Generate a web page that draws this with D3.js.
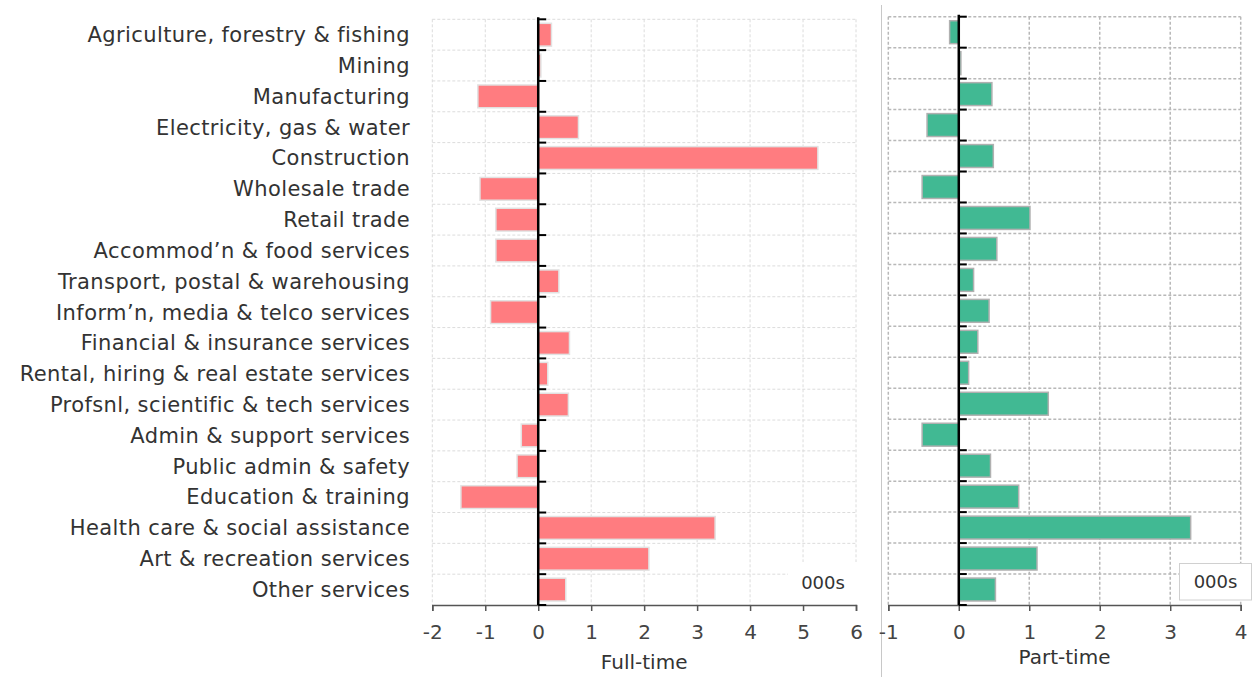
<!DOCTYPE html>
<html><head><meta charset="utf-8">
<script src="https://cdn.jsdelivr.net/npm/d3@7"></script>
<style>
html,body{margin:0;padding:0;background:#fff;}
svg text{font-family:"DejaVu Sans",sans-serif;}
</style></head>
<body><svg id="c" width="1252" height="677"></svg>
<script>
const categories = ["Agriculture, forestry & fishing","Mining","Manufacturing","Electricity, gas & water","Construction","Wholesale trade","Retail trade","Accommod’n & food services","Transport, postal & warehousing","Inform’n, media & telco services","Financial & insurance services","Rental, hiring & real estate services","Profsnl, scientific & tech services","Admin & support services","Public admin & safety","Education & training","Health care & social assistance","Art & recreation services","Other services"];
const fullTime = [0.25,0.05,-1.14,0.76,5.28,-1.10,-0.80,-0.80,0.39,-0.90,0.59,0.18,0.57,-0.32,-0.40,-1.46,3.34,2.09,0.52];
const partTime = [-0.13,0.03,0.47,-0.45,0.49,-0.52,1.01,0.54,0.21,0.43,0.27,0.14,1.27,-0.52,0.45,0.85,3.29,1.11,0.52];
const ftTicks = [-2,-1,0,1,2,3,4,5,6];
const ptTicks = [-1,0,1,2,3,4];
const unitLabel = "000s";

const svg = d3.select("#c");

// separator
svg.append("line").attr("x1",881.5).attr("x2",881.5).attr("y1",5).attr("y2",677)
  .attr("stroke","#c8c8c8").attr("stroke-width",1);

function panel(opts){
  const {values, ticks, xr, yr, color, stroke, gridColor, gridW, dash, title, titleY, tickY, box} = opts;
  const x = d3.scaleLinear().domain([ticks[0], ticks[ticks.length-1]]).range(xr);
  const y = d3.scaleBand().domain(categories).range(yr).padding(0);
  const g = svg.append("g");
  const step = y.step();
  // grid
  g.selectAll(".vg").data(ticks).join("line")
    .attr("x1",d=>x(d)).attr("x2",d=>x(d)).attr("y1",yr[0]).attr("y2",yr[1])
    .attr("stroke",gridColor).attr("stroke-width",gridW).attr("stroke-dasharray",dash);
  const bounds = categories.map(c=>y(c)).concat([yr[1]]);
  g.selectAll(".hg").data(bounds.slice(0,-1)).join("line")
    .attr("x1",xr[0]).attr("x2",xr[1]).attr("y1",d=>d).attr("y2",d=>d)
    .attr("stroke",gridColor).attr("stroke-width",gridW).attr("stroke-dasharray",dash);
  // bars
  g.selectAll(".bar").data(values).join("rect")
    .attr("x",d=>x(Math.min(0,d))).attr("width",d=>Math.abs(x(d)-x(0)))
    .attr("y",(d,i)=>y(categories[i])+step*0.13).attr("height",step*0.74)
    .attr("fill",color).attr("stroke",stroke).attr("stroke-width",1.5);
  // unit label
  if(box){
    g.append("rect").attr("x",box.x).attr("y",box.y).attr("width",box.w).attr("height",box.h)
      .attr("fill","#fff").attr("stroke",box.stroke).attr("stroke-width",1);
    g.append("text").attr("x",box.x+box.w/2).attr("y",box.y+box.h/2).attr("dy","0.35em")
      .attr("text-anchor","middle").attr("font-size",18).attr("fill","#333").text(unitLabel);
  }
  // x axis
  const ax = d3.axisBottom(x).tickValues(ticks).tickSize(6).tickFormat(d=>String(d));
  const axg = g.append("g").attr("transform",`translate(0,${yr[1]})`).call(ax);
  axg.select(".domain").attr("stroke","#555").attr("stroke-width",1.5);
  axg.selectAll(".tick line").attr("stroke","#555").attr("stroke-width",1.5);
  axg.selectAll(".tick text").attr("font-size",20).attr("fill","#444").attr("y",tickY-yr[1]).attr("dy","0.35em")
    .style("font-family","'DejaVu Sans',sans-serif");
  // zero axis
  g.append("line").attr("x1",x(0)).attr("x2",x(0)).attr("y1",yr[0]-2).attr("y2",yr[1])
    .attr("stroke","#000").attr("stroke-width",2.5);
  g.selectAll(".zt").data(bounds).join("line")
    .attr("x1",x(0)).attr("x2",x(0)+8).attr("y1",d=>d).attr("y2",d=>d)
    .attr("stroke","#000").attr("stroke-width",2);
  g.append("text").attr("x",(xr[0]+xr[1])/2).attr("y",titleY).attr("dy","0.35em")
    .attr("text-anchor","middle").attr("font-size",20).attr("fill","#333").text(title);
  return {x,y};
}

const L = panel({values:fullTime, ticks:ftTicks, xr:[432.3,856], yr:[19.3,605], color:"#ff7c80", stroke:"#e2e2e2",
  gridColor:"#dcdcdc", gridW:1, dash:"3,2", title:"Full-time", titleY:662, tickY:632,
  box:{x:788,y:562,w:70,h:42,stroke:"none"}});
const R = panel({values:partTime, ticks:ptTicks, xr:[888.3,1240.7], yr:[16.7,605], color:"#41b993", stroke:"#b0b0b0",
  gridColor:"#b8b8b8", gridW:1.5, dash:"3,2", title:"Part-time", titleY:657, tickY:632,
  box:{x:1179.5,y:563.5,w:72,h:36.5,stroke:"#d0d0d0"}});

// category labels
svg.append("g").selectAll("text").data(categories).join("text")
  .attr("x",410).attr("y",d=>L.y(d)+L.y.step()/2).attr("dy","0.35em")
  .attr("text-anchor","end").attr("font-size",21).attr("letter-spacing","0.4px").attr("fill","#333").text(d=>d);
</script></body></html>
